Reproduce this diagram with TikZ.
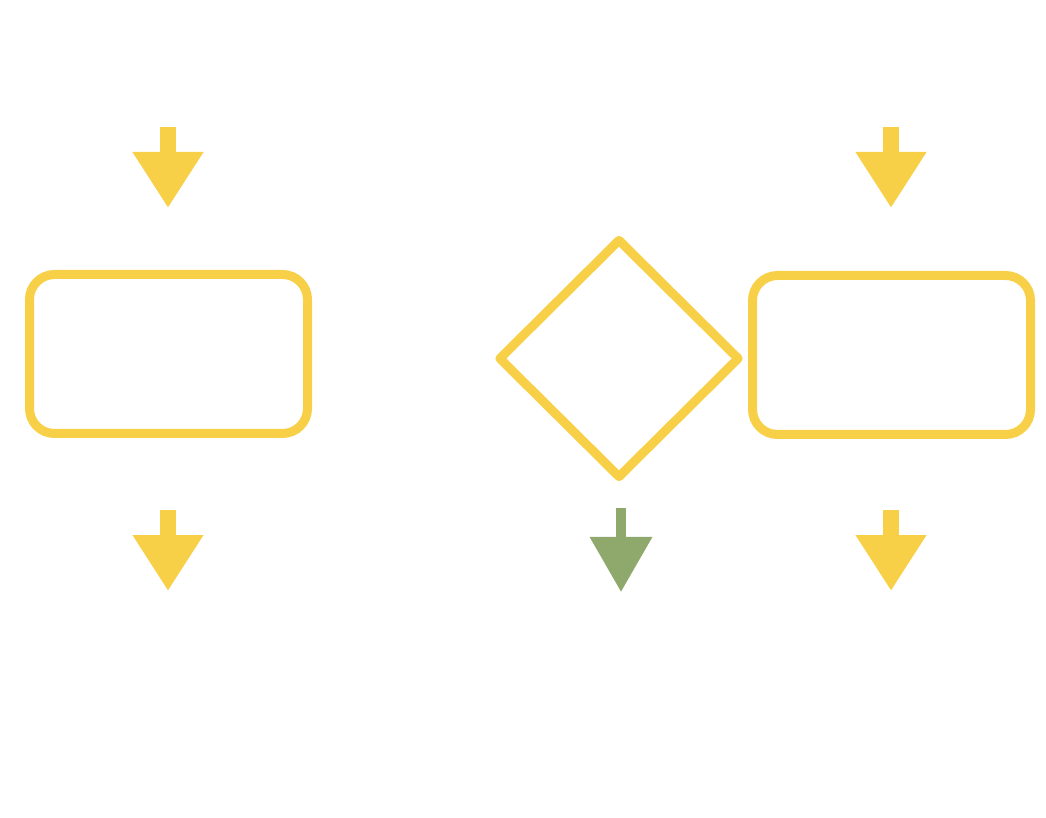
\documentclass[tikz,border=0pt]{standalone}
\usepackage{tikz}
\usetikzlibrary{positioning,arrows.meta,shapes.geometric}

\begin{document}
\begin{tikzpicture}[x=1cm,y=1cm,
 box/.style={draw=chalkyellow,line width=.09cm,rounded corners=.25cm,inner sep=0pt,
  minimum width=2.78cm,minimum height=1.59cm},
 choice/.style={diamond,draw=chalkyellow,line width=.09cm,line join=round,inner sep=0pt,
  minimum width=2.42cm,minimum height=2.4cm},
 fatarrow/.style={-{Triangle[width=.67cm,length=.56cm]},line width=.16cm,draw=chalkyellow},
 greenarrow/.style={-{Triangle[width=.6cm,length=.55cm]},line width=.1cm,draw=chalkgreen}]
\definecolor{chalkyellow}{HTML}{F7D047}
\definecolor{chalkgreen}{HTML}{8EA96B}
\useasboundingbox (0,0) rectangle (10.46,-8.18);
\node[box] (left) at (1.685,-3.54) {};
\node[box] (right) at (8.915,-3.55) {};
\node[choice] (check) at (6.19,-3.585) {};
% free-standing arrows above and below the steps
\coordinate (inL) at (1.68,-1.27);
\coordinate (inLend) at (1.68,-2.08);
\coordinate (inR) at (8.91,-1.27);
\coordinate (inRend) at (8.91,-2.08);
\coordinate (outL) at (1.68,-5.1);
\coordinate (outLend) at (1.68,-5.91);
\coordinate (outR) at (8.91,-5.1);
\coordinate (outRend) at (8.91,-5.91);
\coordinate (outC) at (6.21,-5.08);
\coordinate (outCend) at (6.21,-5.92);
\draw[fatarrow] (inL)--(inLend);
\draw[fatarrow] (inR)--(inRend);
\draw[fatarrow] (outL)--(outLend);
\draw[fatarrow] (outR)--(outRend);
\draw[greenarrow] (outC)--(outCend);
\end{tikzpicture}
\end{document}
